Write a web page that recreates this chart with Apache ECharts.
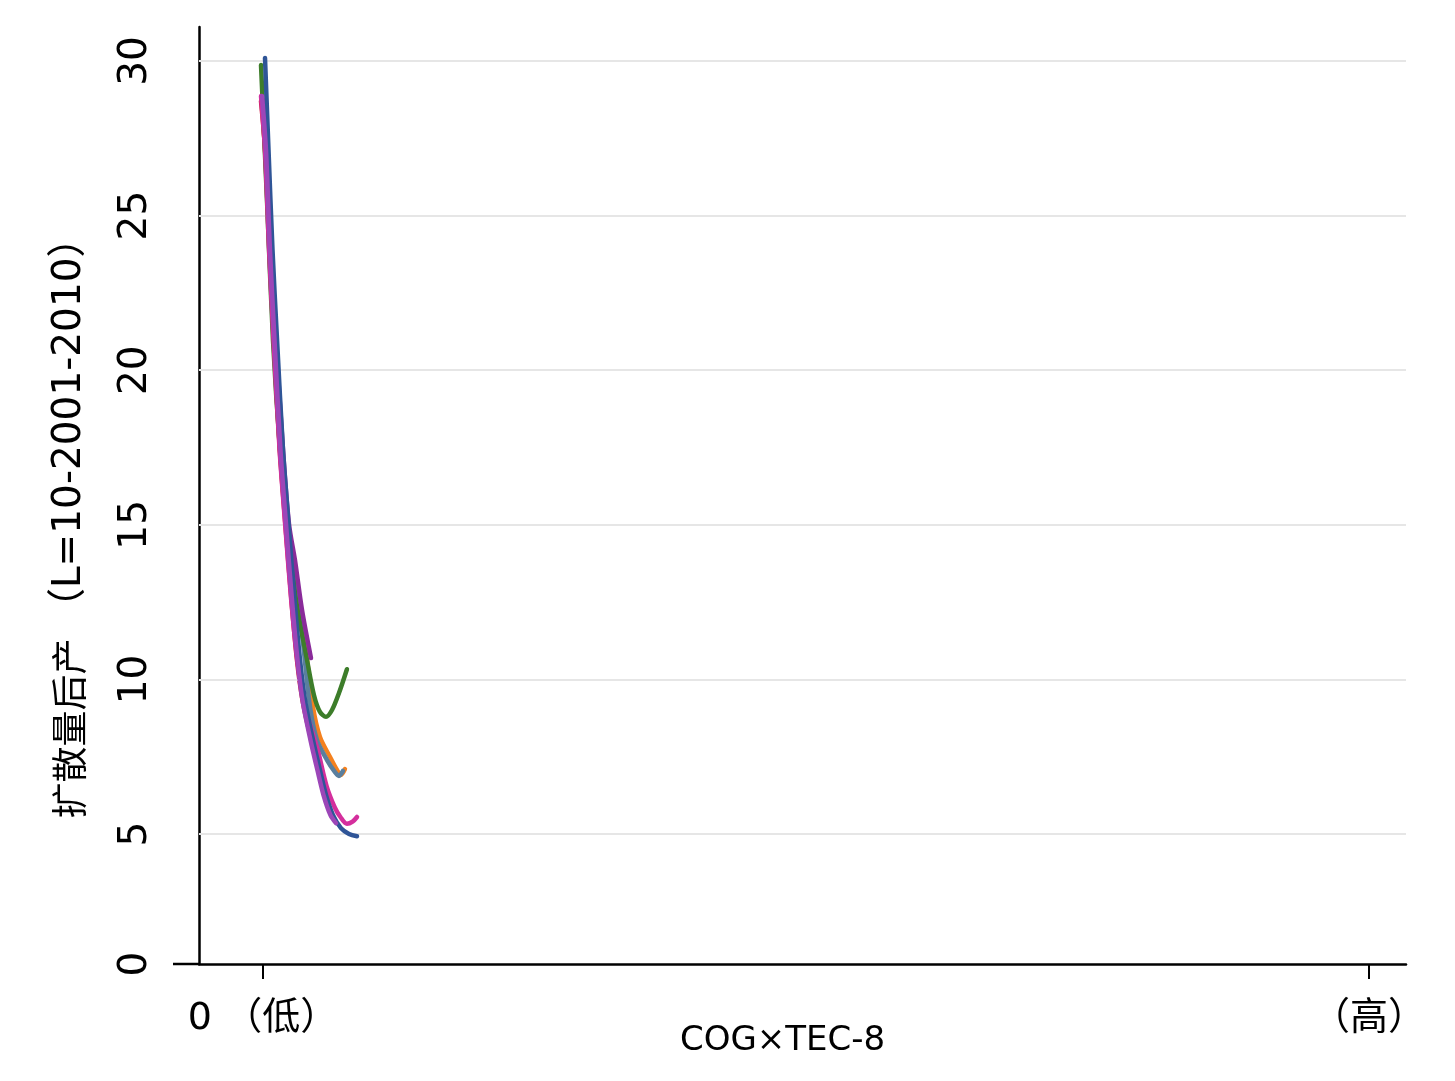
<!DOCTYPE html>
<html>
<head>
<meta charset="utf-8">
<script src="https://cdn.jsdelivr.net/npm/echarts@6/dist/echarts.min.js"></script>
<style>
html,body{margin:0;padding:0;background:#fff;}
#chart{width:1455px;height:1081px;}
</style>
</head>
<body>
<div id="chart"></div>
<script>
// ---- data ----
const xTickValues = [0, 100];
const xTickLabels = ['0 （低）', '（高）'];
const yTickValues = [0.796, 5, 10, 15, 20, 25, 30];
const yTickLabels = ['0', '5', '10', '15', '20', '25', '30'];
const gridValues = [5, 10, 15, 20, 25, 30];

const redX = [-0.25, 0.12, 0.5, 0.9, 1.45, 1.95, 2.5, 3.0, 3.5, 4.2, 4.8];
const redY = [28.7, 27.12, 23.89, 20.98, 17.42, 15.03, 12.57, 10.63, 9.33, 8.2, 7.5];

const orangeX = [-0.09, 0.45, 0.99, 1.54, 2.1, 2.71, 3.25, 3.80, 4.52, 5.15, 6.06, 6.69, 7.05, 7.41];
const orangeY = [28.74, 25.5, 20.98, 17.42, 15.03, 13.86, 12.57, 11.18, 9.11, 8.14, 7.49, 7.07, 6.91, 7.10];

const steelX = [-0.05, 0.45, 1.0, 1.55, 2.1, 2.65, 3.15, 3.62, 4.25, 4.88, 5.79, 6.51, 6.87, 7.23];
const steelY = [28.74, 25.5, 20.98, 17.42, 15.03, 13.86, 12.57, 11.18, 9.11, 8.04, 7.39, 7.0, 6.88, 7.04];

const greenX = [-0.18, 0.36, 0.9, 1.54, 2.17, 2.98, 3.98, 4.61, 5.15, 5.70, 6.24, 6.87, 7.59];
const greenY = [29.87, 25.5, 20.98, 17.42, 15.03, 12.57, 10.63, 9.49, 8.95, 8.79, 9.01, 9.56, 10.33];

const darkPurpleX = [0.0, 0.54, 1.18, 1.81, 2.35, 2.89, 3.53, 4.34];
const darkPurpleY = [28.74, 25.5, 20.98, 17.42, 15.03, 13.86, 12.24, 10.69];

const magentaX = [-0.18, 0.18, 0.55, 0.95, 1.5, 2.0, 2.55, 3.1, 3.65, 4.45, 4.95, 5.75, 6.5, 7.0, 7.59, 8.1, 8.5];
const magentaY = [28.87, 27.12, 23.89, 20.98, 17.42, 15.03, 12.57, 10.63, 9.33, 8.3, 7.72, 6.55, 5.85, 5.55, 5.33, 5.4, 5.55];

const blueX = [0.18, 0.50, 0.86, 1.27, 1.81, 2.31, 2.85, 3.35, 3.80, 4.52, 5.15, 5.70, 6.33, 7.05, 7.78, 8.50];
const blueY = [30.10, 27.12, 23.89, 20.98, 17.42, 15.03, 12.57, 10.63, 9.33, 8.04, 7.07, 6.26, 5.61, 5.19, 5.00, 4.93];

const purpleX = [-0.09, 0.27, 0.63, 1.04, 1.58, 2.08, 2.62, 3.12, 3.57, 4.29, 4.92, 5.47, 6.1, 6.6];
const purpleY = [28.87, 27.12, 23.89, 20.98, 17.42, 15.03, 12.57, 10.63, 9.33, 8.04, 7.07, 6.26, 5.61, 5.35];

const seriesDefs = [
  {name: 'red', xs: redX, ys: redY, color: '#c8163a', width: 3},
  {name: 'orange', xs: orangeX, ys: orangeY, color: '#f4811f', width: 4.5},
  {name: 'steel', xs: steelX, ys: steelY, color: '#5a7f9e', width: 4.5},
  {name: 'green', xs: greenX, ys: greenY, color: '#3d7d2a', width: 4.5},
  {name: 'darkpurple', xs: darkPurpleX, ys: darkPurpleY, color: '#8a2b9a', width: 4.5},
  {name: 'magenta', xs: magentaX, ys: magentaY, color: '#d42f9d', width: 4.5},
  {name: 'blue', xs: blueX, ys: blueY, color: '#2f5597', width: 4.5},
  {name: 'purple', xs: purpleX, ys: purpleY, color: '#9c46b8', width: 4.5}
];

const LATIN = '"DejaVu Sans", "Noto Sans CJK SC", sans-serif';
const CJK = '"Noto Sans CJK SC", "DejaVu Sans", sans-serif';
const chart = echarts.init(document.getElementById('chart'), null, {renderer: 'canvas'});

const series = seriesDefs.map((d, i) => ({
  type: 'line',
  name: d.name,
  data: d.xs.map((x, j) => [x, d.ys[j]]),
  showSymbol: false,
  symbol: 'none',
  smooth: 0.3,
  z: 3 + i,
  lineStyle: {color: d.color, width: d.width, cap: 'round', join: 'round'},
  silent: true
}));
series.unshift({
  type: 'line',
  name: 'grid',
  data: [],
  z: 1,
  silent: true,
  markLine: {
    silent: true,
    symbol: 'none',
    label: {show: false},
    lineStyle: {color: '#e6e6e6', width: 2, type: 'solid'},
    data: gridValues.map(v => ({yAxis: v}))
  }
});

chart.setOption({
  animation: false,
  backgroundColor: '#ffffff',
  textStyle: {fontFamily: LATIN},
  grid: {left: 199, right: 49, top: 27, bottom: 117, containLabel: false},
  xAxis: {
    type: 'value',
    min: -5.787,
    max: 103.35,
    axisLine: {show: true, onZero: false, lineStyle: {color: '#000', width: 2.5}},
    axisTick: {show: true, customValues: xTickValues, length: 15, lineStyle: {color: '#000', width: 2}},
    axisLabel: {
      customValues: xTickValues,
      formatter: v => xTickLabels[xTickValues.indexOf(v)] || '',
      margin: 36, fontSize: 38, color: '#000', fontFamily: LATIN
    },
    splitLine: {show: false},
    name: 'COG×TEC-8',
    nameLocation: 'middle',
    nameGap: 60,
    nameMoveOverlap: false,
    nameTextStyle: {fontSize: 34, color: '#000', fontFamily: LATIN, padding: [0, 40, 0, 0]}
  },
  yAxis: {
    type: 'value',
    min: 0.796,
    max: 31.1,
    axisLine: {show: true, onZero: false, lineStyle: {color: '#000', width: 2.5}},
    axisTick: {show: false},
    axisLabel: {
      customValues: yTickValues,
      formatter: v => yTickLabels[yTickValues.indexOf(v)] || '',
      rotate: 90, margin: 44, fontSize: 39, color: '#000', fontFamily: LATIN
    },
    splitLine: {show: false},
    name: '{c|扩散量后产} {l|（L=10-2001-2010）}',
    nameLocation: 'middle',
    nameGap: 110,
    nameRotate: 90,
    nameMoveOverlap: false,
    nameTextStyle: {
      fontSize: 36, color: '#000', fontFamily: LATIN, padding: [0, 46, 0, 0],
      rich: {
        c: {fontSize: 36, fontFamily: CJK, color: '#000'},
        l: {fontSize: 39, fontFamily: LATIN, color: '#000'}
      }
    }
  },
  graphic: [{
    type: 'line',
    shape: {x1: 173, y1: 964, x2: 200, y2: 964},
    style: {stroke: '#000', lineWidth: 2.5},
    silent: true
  }],
  series: series
});
</script>
</body>
</html>
